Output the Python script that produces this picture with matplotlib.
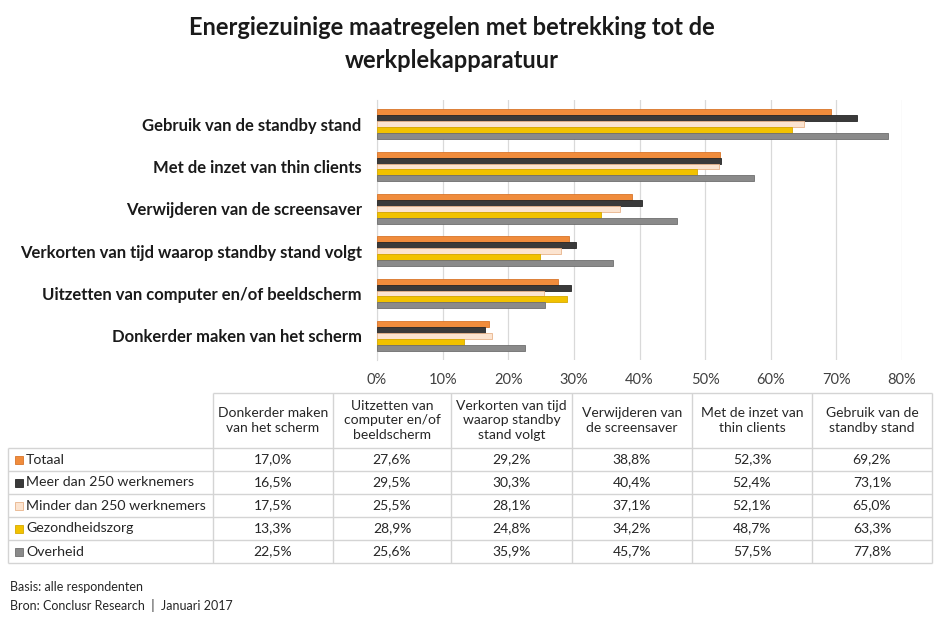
import matplotlib
matplotlib.use("Agg")
import matplotlib.pyplot as plt
import numpy as np

plt.rcParams['font.family'] = ['Lato', 'DejaVu Sans']

# Daten
categories = ["Donkerder maken van het scherm",
              "Uitzetten van computer en/of beeldscherm",
              "Verkorten van tijd waarop standby stand volgt",
              "Verwijderen van de screensaver",
              "Met de inzet van thin clients",
              "Gebruik van de standby stand"]
header_labels = ["Donkerder maken\nvan het scherm",
                 "Uitzetten van\ncomputer en/of\nbeeldscherm",
                 "Verkorten van tijd\nwaarop standby\nstand volgt",
                 "Verwijderen van\nde screensaver",
                 "Met de inzet van\nthin clients",
                 "Gebruik van de\nstandby stand"]
series = ["Totaal", "Meer dan 250 werknemers", "Minder dan 250 werknemers",
          "Gezondheidszorg", "Overheid"]
totaal = [17.0, 27.6, 29.2, 38.8, 52.3, 69.2]
meer_250 = [16.5, 29.5, 30.3, 40.4, 52.4, 73.1]
minder_250 = [17.5, 25.5, 28.1, 37.1, 52.1, 65.0]
gezondheidszorg = [13.3, 28.9, 24.8, 34.2, 48.7, 63.3]
overheid = [22.5, 25.6, 35.9, 45.7, 57.5, 77.8]
werte = [totaal, meer_250, minder_250, gezondheidszorg, overheid]

farben = ['#F08C3C', '#3A3A3A', '#FCE4D0', '#F2C200', '#8A8A8A']
kanten = ['#D9752A', '#262626', '#E8B48A', '#D6A800', '#6E6E6E']

W, H = 948, 620
fig = plt.figure(figsize=(W / 100, H / 100), dpi=100)

# Titel
fig.text(452 / W, 1 - 44 / H, "Energiezuinige maatregelen met betrekking tot de\nwerkplekapparatuur",
         ha='center', va='center', fontsize=17, fontweight='bold', linespacing=1.5, color='#1a1a1a')

# Balkendiagramm
ax = fig.add_axes([377 / W, 1 - 360 / H, (902 - 377) / W, 260 / H])
y = np.arange(len(categories))
h = 0.14
for i, (vals, fc, ec) in enumerate(zip(werte, farben, kanten)):
    ax.barh(y + (2 - i) * h, vals, height=h, color=fc, edgecolor=ec, linewidth=0.6, zorder=3)
ax.set_xlim(0, 80)
ax.set_ylim(-0.57, 5.57)
ax.set_xticks(np.arange(0, 81, 10))
ax.set_xticklabels([f"{t}%" for t in range(0, 81, 10)], fontsize=10.5, color='#404040')
ax.set_yticks(y)
ax.set_yticklabels(categories, fontsize=12, fontweight='bold', color='#1a1a1a')
ax.tick_params(length=0)
ax.tick_params(axis='y', pad=11)
ax.tick_params(axis='x', pad=9)
ax.grid(axis='x', color='#d9d9d9', linewidth=0.9, zorder=0)
for s in ['top', 'right', 'bottom']:
    ax.spines[s].set_visible(False)
ax.spines['left'].set_color('#d9d9d9')

# Datentabelle
tx = fig.add_axes([0, 0, 1, 1])
tx.set_xlim(0, W)
tx.set_ylim(H, 0)
tx.axis('off')
spalten = [8, 213, 333, 451, 572, 692, 812, 932]
zeilen = [393, 448, 471, 494, 517, 540, 563]
lc = '#d4d4d4'
tx.hlines(zeilen[0], spalten[1], spalten[-1], color=lc, lw=1)
tx.hlines(zeilen[1:], spalten[0], spalten[-1], color=lc, lw=1)
tx.vlines(spalten[1:], zeilen[0], zeilen[-1], color=lc, lw=1)
tx.vlines(spalten[0], zeilen[1], zeilen[-1], color=lc, lw=1)

for j, lab in enumerate(header_labels):
    xc = (spalten[j + 1] + spalten[j + 2]) / 2
    tx.text(xc, (zeilen[0] + zeilen[1]) / 2, lab, ha='center', va='center',
            fontsize=10, color='#262626', linespacing=1.25)

for i, (name, vals) in enumerate(zip(series, werte)):
    yc = (zeilen[i + 1] + zeilen[i + 2]) / 2
    tx.add_patch(plt.Rectangle((15, yc - 4), 8, 8, facecolor=farben[i], edgecolor=kanten[i], lw=0.6))
    tx.text(26, yc, name, ha='left', va='center', fontsize=10.2, color='#262626')
    for j, v in enumerate(vals):
        xc = (spalten[j + 1] + spalten[j + 2]) / 2
        tx.text(xc, yc, f"{v:.1f}%".replace('.', ','), ha='center', va='center',
                fontsize=10, color='#262626')

# Fußnote
fig.text(10 / W, 1 - 587 / H, "Basis: alle respondenten", ha='left', va='center', fontsize=9, color='#262626')
fig.text(10 / W, 1 - 605 / H, "Bron: Conclusr Research  |  Januari 2017", ha='left', va='center', fontsize=9, color='#262626')

fig.savefig("out.png", dpi=100)
